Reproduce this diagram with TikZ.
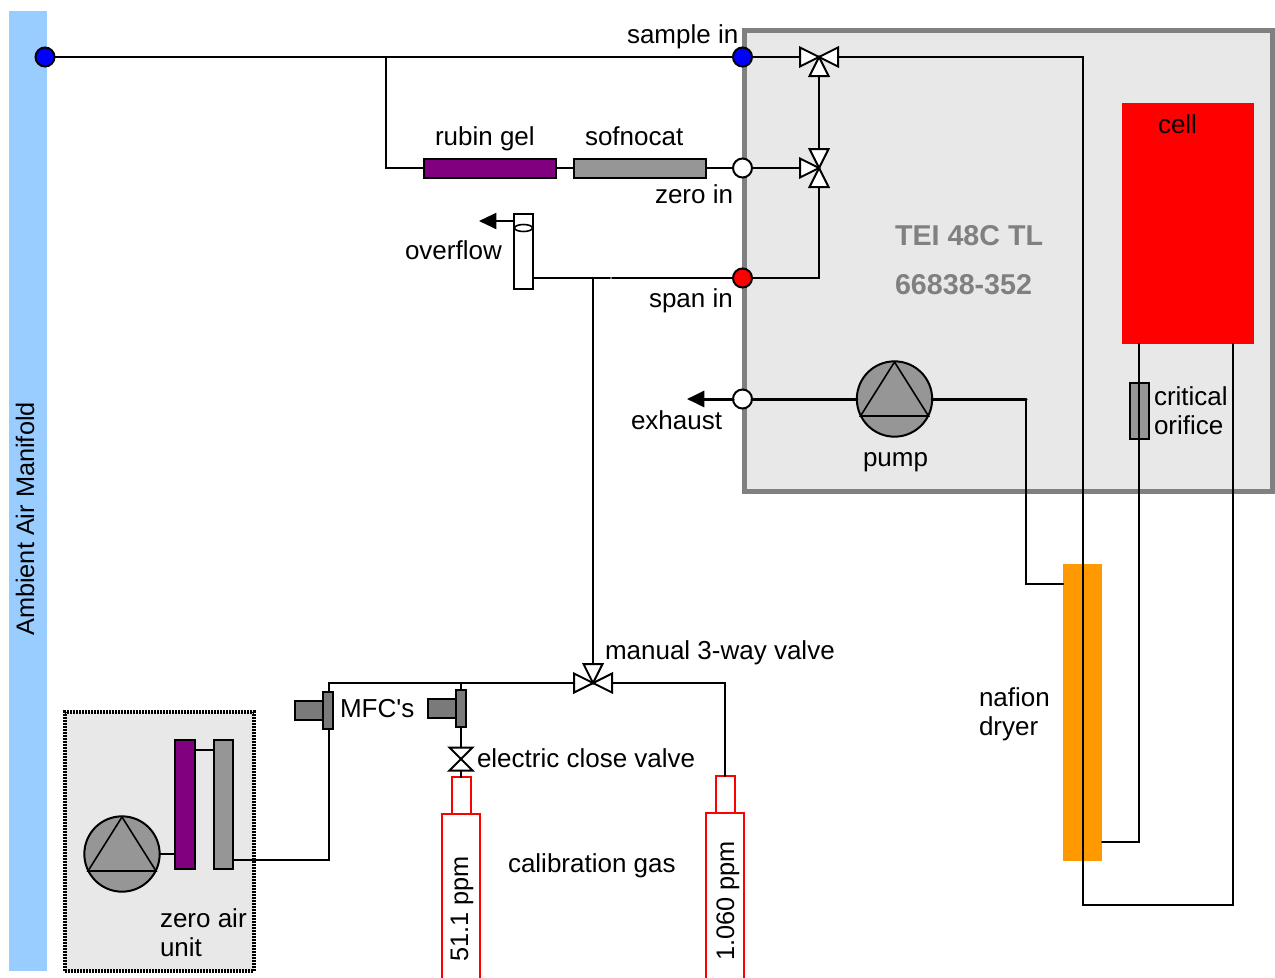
\documentclass[tikz,border=0pt]{standalone}
\usepackage{fontspec}
\setmainfont{Liberation Sans}
\usepackage{xcolor}
\usepackage{tikz}
\usetikzlibrary{arrows.meta,calc,positioning,shapes.geometric}
\begin{document}
\begin{tikzpicture}[
    x=.75pt,y=-.75pt,
    line cap=round,
    line width=1.5pt,
    %styles
    size/.style 2 args={minimum width=#1*.75pt,minimum height=#2*.75pt},
    part/.style={draw=black,rectangle,inner sep=0pt,outer sep=0pt},
    port/.style={draw=black,circle,inner sep=0pt,outer sep=0pt,minimum size=14.25pt},
    bottle/.style={draw=red,fill=white,rectangle,inner sep=0pt,outer sep=0pt},
    label text/.style={anchor=base west,inner sep=0pt,font=\fontsize{19.5pt}{23pt}\selectfont},
    upright text/.style={anchor=base,rotate=90,inner sep=0pt,font=\fontsize{19pt}{23pt}\selectfont},
    title text/.style={anchor=base west,inner sep=0pt,text=boxline,font=\fontsize{21.5pt}{25pt}\selectfont\bfseries},
    pump body/.style={draw=black,fill=partgray,circle,inner sep=0pt,outer sep=0pt,minimum size=56.5pt},
    outlet/.style={-{Triangle[length=13pt,width=12pt]}},
    valve leg/.pic={
        \filldraw[fill=white] (0,0) -- (-19,-9.5) -- (-19,9.5) -- cycle;
        \coordinate (-end) at (-19,0);
      },
    flat leg/.pic={
        \filldraw[fill=white] (0,0) -- (-11.5,-11.5) -- (-11.5,11.5) -- cycle;
        \coordinate (-end) at (-11.5,0);
      },
  ]
  %colors
  \definecolor{manifold}{HTML}{99CCFF}
  \definecolor{boxfill}{HTML}{E8E8E8}
  \definecolor{boxline}{HTML}{808080}
  \definecolor{partgray}{HTML}{969696}
  \definecolor{mfcgray}{HTML}{7A7A7A}
  \definecolor{gelpurple}{HTML}{800080}
  \definecolor{dryerorange}{HTML}{FF9900}
  \useasboundingbox (0,0) rectangle (1275,978);

  %housings
  \node[rectangle,fill=manifold,inner sep=0pt,size={38}{960}] (manifold) at (28,491) {};
  \node[rectangle,fill=boxfill,draw=boxline,line width=3.75pt,inner sep=0pt,size={528}{461}] (tei) at (1008,260.5) {};
  \node[rectangle,fill=boxfill,draw=black,line cap=butt,line width=2.6pt,dash pattern=on 1.5pt off .75pt,inner sep=0pt,size={189}{259}] (zero unit) at (159.5,841.5) {};

  %parts
  \node[rectangle,fill=red,inner sep=0pt,size={132}{241}] (cell) at (1188,223.5) {};
  \node[rectangle,fill=dryerorange,inner sep=0pt,size={39}{297}] (nafion) at (1082.5,712.5) {};
  \node[part,fill=gelpurple,size={132}{19}] (rubin) at (490,168) {};
  \node[part,fill=partgray,size={132}{19}] (sofnocat) at (640,168) {};
  \node[part,fill=white,size={19}{75}] (overflow) at (523.5,251.5) {};
  \draw[line width=1.2pt] (523.5,228) ellipse [x radius=9,y radius=3.5];
  \node[part,fill=partgray,size={19}{56}] (orifice) at (1139.5,411) {};
  \node[part,fill=gelpurple,size={20}{129}] (zero gel) at (185,804.5) {};
  \node[part,fill=partgray,size={19}{129}] (zero cat) at (223.5,804.5) {};
  \node[part,fill=mfcgray,size={10}{37}] (mfc a) at (328,710.5) {};
  \node[part,fill=mfcgray,size={28}{19},anchor=east] (mfc a body) at (mfc a.west) {};
  \node[part,fill=mfcgray,size={10}{37}] (mfc b) at (461,708.5) {};
  \node[part,fill=mfcgray,size={28}{19},anchor=east] (mfc b body) at (mfc b.west) {};

  %gas bottles
  \node[bottle,size={38}{171}] (bottle a) at (461,899.5) {};
  \node[bottle,size={19}{37},anchor=south] (neck a) at (bottle a.north) {};
  \node[bottle,size={38}{172}] (bottle b) at (725,899) {};
  \node[bottle,size={19}{37},anchor=south] (neck b) at (bottle b.north) {};

  %pumps
  \foreach \name/\px/\py in {main pump/894.5/399, zero pump/122/854} {
      \node[pump body] (\name) at (\px,\py) {};
      \draw[line width=1.2pt] (\px,\py-37) -- (\px-34,\py+17) -- (\px+34,\py+17) -- cycle;
    }

  %valves
  \coordinate (sample valve) at (819,57);
  \coordinate (zero valve) at (819,168);
  \coordinate (manual valve) at (593,683);
  \coordinate (close valve) at (461,759);
  \pic (sv left) at (sample valve) {valve leg};
  \pic[rotate=180] (sv right) at (sample valve) {valve leg};
  \pic[rotate=90] (sv low) at (sample valve) {valve leg};
  \pic (zv left) at (zero valve) {valve leg};
  \pic[rotate=-90] (zv up) at (zero valve) {valve leg};
  \pic[rotate=90] (zv low) at (zero valve) {valve leg};
  \pic (mv left) at (manual valve) {valve leg};
  \pic[rotate=180] (mv right) at (manual valve) {valve leg};
  \pic[rotate=-90] (mv up) at (manual valve) {valve leg};
  \pic[rotate=-90] (cv up) at (close valve) {flat leg};
  \pic[rotate=90] (cv low) at (close valve) {flat leg};

  %ports
  \node[port,fill=blue] (ambient port) at (45,57) {};
  \node[port,fill=blue] (sample port) at (742.5,57) {};
  \node[port,fill=white] (zero port) at (742.5,168) {};
  \node[port,fill=red] (span port) at (742.5,278) {};
  \node[port,fill=white] (exhaust port) at (742.5,399) {};

  %junctions
  \coordinate (gel tee) at (386,57);
  \coordinate (gap left) at (610,278);
  \coordinate (gap right) at (612,278);
  \coordinate (span tee) at (593,278);
  \coordinate (exhaust tip) at (687,399);
  \coordinate (overflow tip) at (479,221);
  \coordinate (overflow out) at (514,221);
  \coordinate (mfc tee) at (461,683);
  \coordinate (dryer corner) at (1026,399);
  \coordinate (dryer in) at (1063,584);
  \coordinate (dryer out) at (1102,842);
  \coordinate (return corner) at (1083,905);
  \coordinate (cell left) at (1139,344);
  \coordinate (cell right) at (1233,344);
  \coordinate (gel top) at (195,750);
  \coordinate (cat top) at (214,750);
  \coordinate (cat out) at (234,860);

  %lines
  \draw (ambient port) -- (sample port);
  \draw (gel tee) |- (rubin.west);
  \draw (rubin.east) -- (sofnocat.west);
  \draw (sofnocat.east) -- (zero port);
  \draw (sample port) -- (sv left-end);
  \draw (zero port) -- (zv left-end);
  \draw (sv low-end) -- (zv up-end);
  \draw (zv low-end) |- (span port);
  \draw (sv right-end) -| (return corner) -| (cell right);
  \draw (overflow.east |- span port) -- (gap left);
  \draw (gap right) -- (span port);
  \draw (span tee) -- (mv up-end);
  \draw[outlet] (overflow out) -- (overflow tip);
  \draw[outlet,line width=2.25pt] (exhaust port) -- (exhaust tip);
  \draw[line width=2.25pt] (exhaust port) -- (main pump);
  \draw[line width=2.25pt] (main pump) -- (dryer corner);
  \draw (dryer corner) |- (dryer in);
  \draw (dryer out) -| (cell left);
  \draw (mfc a.north -| 329,0) |- (mv left-end);
  \draw (mfc a.south -| 329,0) |- (cat out);
  \draw (mfc tee) -- (mfc b.north);
  \draw (mfc b.south) -- (cv up-end);
  \draw (cv low-end) -- (neck a.north);
  \draw (mv right-end) -| (neck b.north);
  \draw (gel top) -- (cat top);
  \draw (zero pump.east) -- (zero gel.west |- zero pump.east);

  %labels
  \node[upright text] (manifold label) at (34,519) {Ambient Air Manifold};
  \node[label text] (sample label) at (626,43) {sample in};
  \node[label text] (rubin label) at (434,145) {rubin gel};
  \node[label text] (sofnocat label) at (584,145) {sofnocat};
  \node[label text] (zero label) at (654,203) {zero in};
  \node[label text] (overflow label) at (404,259) {overflow};
  \node[label text] (span label) at (648,307) {span in};
  \node[label text] (exhaust label) at (630,429) {exhaust};
  \node[label text] (pump label) at (862,466) {pump};
  \node[title text] (tei label) at (894,245) {TEI 48C TL};
  \node[title text] (serial label) at (894,294) {66838-352};
  \node[label text] (cell label) at (1157,133) {cell};
  \node[label text] (critical label) at (1153,405) {critical};
  \node[label text] (orifice label) at (1153,434) {orifice};
  \node[label text] (manual label) at (604,659) {manual 3-way valve};
  \node[label text] (mfc label) at (339,717) {MFC\textquotesingle s};
  \node[label text] (close label) at (476,767) {electric close valve};
  \node[label text] (gas label) at (507,872) {calibration gas};
  \node[label text] (nafion label) at (978,706) {nafion};
  \node[label text] (dryer label) at (978,735) {dryer};
  \node[label text] (air label) at (159,927) {zero air};
  \node[label text] (unit label) at (159,956) {unit};
  \node[upright text] (low ppm) at (468,909) {51.1 ppm};
  \node[upright text] (high ppm) at (734,901) {1.060 ppm};
\end{tikzpicture}
\end{document}
